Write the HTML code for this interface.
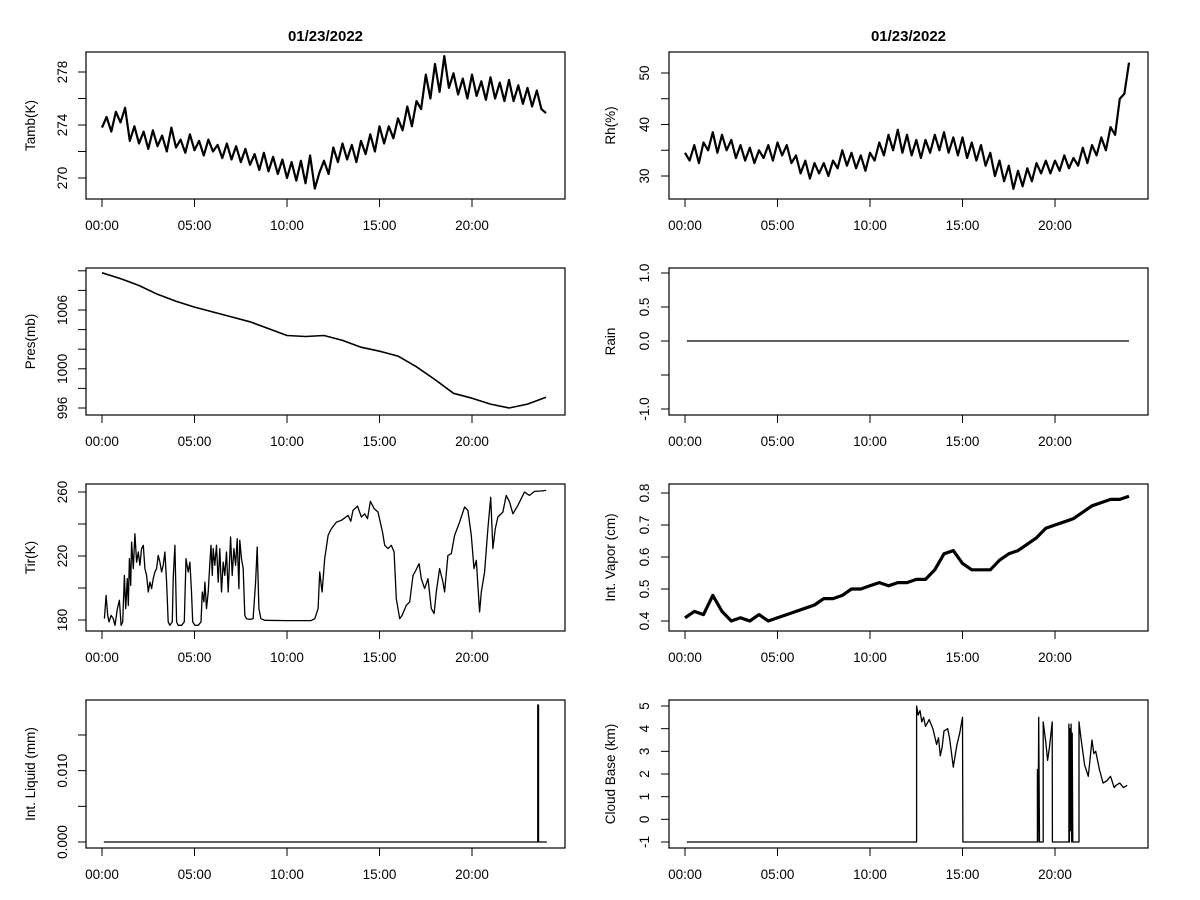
<!DOCTYPE html>
<html><head><meta charset="utf-8"><title>Met panels 01/23/2022</title>
<style>
html,body{margin:0;padding:0;background:#fff;}
svg{display:block;font-family:"Liberation Sans",Arial,sans-serif;}
</style></head>
<body>
<svg id="chart" width="1200" height="900" viewBox="0 0 1200 900" xmlns="http://www.w3.org/2000/svg"></svg>
<script>
// ---------- data ----------
const xTickHours = [0, 5, 10, 15, 20];
const xTickLabels = ["00:00", "05:00", "10:00", "15:00", "20:00"];
const dateTitle = "01/23/2022";

// Tamb (K), every 0.25 h
const tambStep = 0.25;
const tambValues = [273.8,274.6,273.5,275.0,274.2,
275.3,272.8,273.9,272.6, 273.5,272.2,273.6,272.4, 273.2,272.0,273.8,272.3,
272.9,271.9,273.3,272.1, 272.8,271.7,272.9,272.0, 272.5,271.5,272.6,271.4,
272.4,271.2,272.2,271.0, 271.8,270.6,271.9,270.5, 271.6,270.3,271.4,270.0,
271.2,269.8,271.3,269.6, 271.7,269.2,270.4,271.3, 270.3,272.3,271.2,272.6,
271.4,272.5,271.2,272.8, 271.8,273.3,272.0,273.9, 272.6,273.9,273.0,274.5,
273.6,275.4,273.9,275.8, 275.2,277.8,276.0,278.6, 276.5,279.2,276.8,277.9,
276.3,277.5,276.0,277.8, 276.2,277.3,275.9,277.6, 276.0,277.2,275.8,277.4,
275.8,277.0,275.6,276.8, 275.4,276.6,275.2,274.9];
const tambTicks = [270, 272, 274, 276, 278];
const tambTickLabels = ["270", "", "274", "", "278"];

// Rh (%), every 0.25 h
const rhStep = 0.25;
const rhValues = [34.5,33,36,32.5,36.5,
35,38.5,34.5,38, 35,37,33.5,36, 33,35.5,32.5,35, 33.5,36,33,36.5,
34,36,32.5,34, 30.5,33,29.5,32.5, 30.5,32.5,30,33, 31.5,35,32,34.5,
31.5,34,31,34.5, 33,36.5,34,38, 35,39,34.5,38, 34,37,33.5,37,
34.5,38,35,38.5, 34.5,37.5,34,37.5, 33.5,36.5,33,36, 32,34.5,30,33,
29,32,27.5,31, 28,31.5,29,32.5, 30.5,33,30.5,33, 31,34,31.5,33.5,
32,35.5,32.5,36, 34,37.5,35,39.5, 38,45,46,52];
const rhTicks = [30, 35, 40, 45, 50];
const rhTickLabels = ["30", "", "40", "", "50"];

// Pressure (mb), hourly
const presStep = 1;
const presValues = [1009.8,1009.2,1008.5,1007.6,1006.9,1006.3,1005.8,1005.3,1004.8,1004.1,1003.4,1003.3,1003.4,1002.9,1002.2,1001.8,1001.3,1000.2,998.9,997.5,997.0,996.4,996.0,996.4,997.1];
const presTicks = [996, 998, 1000, 1002, 1004, 1006, 1008, 1010];
const presTickLabels = ["996", "", "1000", "", "", "1006", "", ""];

// Rain
const rainTimes = [0.1, 24.0];
const rainValues = [0, 0];
const rainTicks = [-1, -0.5, 0, 0.5, 1];
const rainTickLabels = ["-1.0", "", "0.0", "0.5", "1.0"];

// Tir (K)
const tirTimes = [0.13,0.22,0.31,0.38,0.49,0.61,0.70,0.83,0.94,1.03,1.12,1.21,1.28,1.37,1.42,1.48,1.55,1.60,1.69,1.78,1.87,1.96,2.05,2.14,2.23,2.32,2.41,2.50,2.59,2.68,2.77,2.86,2.95,3.04,3.13,3.22,3.31,3.40,3.49,3.58,3.67,3.80,3.85,3.94,4.03,4.12,4.30,4.45,4.54,4.66,4.75,4.84,4.90,5.02,5.20,5.35,5.42,5.51,5.56,5.65,5.74,5.83,5.89,5.96,6.01,6.10,6.19,6.28,6.37,6.46,6.55,6.64,6.73,6.82,6.95,7.04,7.13,7.22,7.31,7.40,7.45,7.54,7.63,7.72,7.81,7.99,8.17,8.30,8.39,8.48,8.59,8.80,10.0,11.3,11.50,11.68,11.77,11.90,12.04,12.22,12.40,12.67,12.94,13.30,13.45,13.57,13.81,14.02,14.20,14.35,14.51,14.71,14.92,15.16,15.28,15.46,15.64,15.79,15.91,16.09,16.22,16.45,16.63,16.81,16.96,17.14,17.26,17.44,17.62,17.80,17.95,18.07,18.25,18.43,18.52,18.70,18.88,19.06,19.33,19.60,19.78,19.96,20.11,20.23,20.41,20.50,20.68,20.86,21.01,21.13,21.26,21.40,21.67,21.85,22.03,22.21,22.48,22.66,22.84,23.11,23.38,23.74,24.01];
const tirValues = [180.8,195.4,182.9,178.8,182.9,180.8,176.7,187.1,192.3,176.7,178.8,207.9,187.1,205.8,189.2,218.3,201.7,228.7,212.1,233.9,216.2,222.5,214.2,224.6,226.7,212.1,207.9,197.5,203.7,199.6,205.8,210.0,212.1,220.4,216.2,210.0,214.2,222.5,203.7,178.8,176.7,178.8,205.8,226.7,178.8,176.7,176.7,178.8,218.3,210.0,216.2,197.5,178.8,176.7,176.7,178.8,197.5,191.3,203.7,187.1,197.5,216.2,226.7,207.9,224.6,214.2,226.7,203.7,224.6,197.5,216.2,207.9,222.5,197.5,231.9,207.9,224.6,214.2,230.8,199.6,229.8,218.3,212.1,182.9,180.8,180.4,180.8,203.7,225.6,187.1,180.8,179.8,179.6,179.6,180.8,187.1,210.0,197.5,218.3,232.9,237.1,241.2,242.3,245.4,241.7,248.5,251.2,244.4,246.4,243.3,254.2,249.6,247.5,235.0,226.7,224.6,226.7,222.5,193.3,180.8,182.9,189.2,191.3,207.9,211.0,215.2,205.8,199.6,205.8,187.1,184.0,197.5,212.1,203.7,197.5,220.4,221.5,232.9,241.2,250.6,248.5,232.9,212.1,217.3,185.0,197.5,210.0,237.1,256.7,224.6,237.1,244.4,247.5,257.9,253.7,246.4,251.7,255.8,260.0,257.9,260.4,260.6,261.0];
const tirTicks = [180, 200, 220, 240, 260];
const tirTickLabels = ["180", "", "220", "", "260"];

// Integrated vapor (cm), every 0.5 h
const vapStep = 0.5;
const vapValues = [0.41,0.43,0.42,0.48,0.43,0.40,0.41,0.40,0.42,0.40,0.41,0.42,0.43,0.44,0.45,0.47,0.47,0.48,0.50,0.50,0.51,0.52,0.51,0.52,0.52,0.53,0.53,0.56,0.61,0.62,0.58,0.56,0.56,0.56,0.59,0.61,0.62,0.64,0.66,0.69,0.70,0.71,0.72,0.74,0.76,0.77,0.78,0.78,0.79];
const vapTicks = [0.4, 0.5, 0.6, 0.7, 0.8];
const vapTickLabels = ["0.4", "0.5", "0.6", "0.7", "0.8"];

// Integrated liquid (mm)
const liqTimes = [0.1, 23.55, 23.55, 23.6, 23.6, 24.05];
const liqValues = [0, 0, 0.0192, 0.0192, 0, 0];
const liqTicks = [0, 0.005, 0.010, 0.015];
const liqTickLabels = ["0.000", "", "0.010", ""];

// Cloud base (km)
const cbTimes = [0.1,12.52,12.52,12.6,12.7,12.8,12.9,13.0,13.2,13.4,13.6,13.7,13.8,13.9,14.0,14.2,14.3,14.5,14.6,14.7,14.85,15.0,15.02,19.05,19.05,19.08,19.12,19.16,19.36,19.36,19.5,19.6,19.7,19.85,19.86,20.75,20.75,20.78,20.81,20.84,20.87,20.9,20.93,20.96,21.3,21.3,21.4,21.6,21.8,22.0,22.1,22.2,22.4,22.6,22.8,23.0,23.2,23.3,23.5,23.7,23.9];
const cbValues = [-1,-1,5.0,4.6,4.8,4.3,4.5,4.1,4.4,4.0,3.3,3.6,2.8,3.2,3.9,4.0,3.6,2.3,2.8,3.3,3.8,4.5,-1,-1,2.2,-1,4.5,-1,-1,4.3,3.4,2.6,3.2,4.3,-1,-1,4.2,-1,4.0,-0.5,4.2,-1,3.8,-1,-1,4.3,3.6,2.4,1.9,3.5,2.9,3.0,2.2,1.6,1.7,1.9,1.4,1.5,1.6,1.4,1.5];
const cbTicks = [-1, 0, 1, 2, 3, 4, 5];
const cbTickLabels = ["-1", "0", "1", "2", "3", "4", "5"];

// ---------- drawing ----------
const NS = "http://www.w3.org/2000/svg";
const svg = document.getElementById("chart");
function mk(tag, attrs, parent) {
  const e = document.createElementNS(NS, tag);
  for (const k in attrs) e.setAttribute(k, attrs[k]);
  (parent || svg).appendChild(e);
  return e;
}
const PX_PER_HOUR = 18.5;
const cols = [{x0: 86, x1: 565, t0: 102, tickX: 62, titleX: 30},
              {x0: 669, x1: 1148, t0: 685, tickX: 644, titleX: 610}];
const rows = [{y0: 52, y1: 199}, {y0: 268, y1: 415}, {y0: 484, y1: 631}, {y0: 700, y1: 848}];

function regularTimes(step, n) { const t = []; for (let i = 0; i < n; i++) t.push(i * step); return t; }

function panel(name, col, row, ref, ticks, tickLabels, ylabel, times, values, opts) {
  const c = cols[col], r = rows[row];
  const ys = v => ref[1] + (v - ref[0]) * (ref[3] - ref[1]) / (ref[2] - ref[0]);
  const xs = h => c.t0 + h * PX_PER_HOUR;
  const g = mk("g", {});
  
  
  const box = mk("rect", {x: c.x0, y: r.y0, width: c.x1 - c.x0, height: r.y1 - r.y0, fill: "none", stroke: "#000", "stroke-width": 1.2}, g);
  
  
  const xa = mk("g", {}, g);
  
  
  xTickHours.forEach((h, i) => {
    const x = xs(h);
    mk("line", {x1: x, x2: x, y1: r.y1, y2: r.y1 + 8, stroke: "#000", "stroke-width": 1}, xa);
    const t = mk("text", {x: x, y: r.y1 + 31, "font-size": 13.5, "text-anchor": "middle", fill: "#000"}, xa);
    t.textContent = xTickLabels[i];
    
    
  });
  const ya = mk("g", {}, g);
  
  
  ticks.forEach((v, i) => {
    const y = ys(v);
    mk("line", {x1: c.x0 - 8, x2: c.x0, y1: y, y2: y, stroke: "#000", "stroke-width": 1}, ya);
    if (tickLabels[i]) {
      const t = mk("text", {x: c.tickX + 5, y: y, "font-size": 13.5, "text-anchor": "middle", fill: "#000",
        transform: `rotate(-90 ${c.tickX + 5} ${y})`}, ya);
      t.textContent = tickLabels[i];
      
      
    }
  });
  const yc = (r.y0 + r.y1) / 2;
  const yt = mk("text", {x: c.titleX + 5, y: yc, "font-size": 13.5, "text-anchor": "middle", fill: "#000",
    transform: `rotate(-90 ${c.titleX + 5} ${yc})`}, g);
  yt.textContent = ylabel;
  
  
  let d = "";
  times.forEach((h, i) => { d += (i ? "L" : "M") + xs(h).toFixed(1) + " " + ys(values[i]).toFixed(1); });
  const p = mk("path", {d: d, fill: "none", stroke: "#000", "stroke-width": (opts && opts.sw) || 1.2, "stroke-linejoin": "round"}, g);
  
  
  if (opts && opts.title) {
    const tt = mk("text", {x: (c.x0 + c.x1) / 2, y: 41, "font-size": 15, "font-weight": "bold", "text-anchor": "middle", fill: "#000"}, g);
    tt.textContent = dateTitle;
    
    
  }
}

panel("tamb", 0, 0, [270, 178, 278, 72], tambTicks, tambTickLabels, "Tamb(K)",
  regularTimes(tambStep, tambValues.length), tambValues, {title: true, sw: 2.2});
panel("rh", 1, 0, [30, 176, 50, 73], rhTicks, rhTickLabels, "Rh(%)",
  regularTimes(rhStep, rhValues.length), rhValues, {title: true, sw: 2.2});
panel("pres", 0, 1, [996, 408, 1006, 310], presTicks, presTickLabels, "Pres(mb)",
  regularTimes(presStep, presValues.length), presValues, {sw: 1.6});
panel("rain", 1, 1, [0, 341, 1, 273], rainTicks, rainTickLabels, "Rain", rainTimes, rainValues, {});
panel("tir", 0, 2, [180, 620, 260, 492], tirTicks, tirTickLabels, "Tir(K)", tirTimes, tirValues, {sw: 1.3});
panel("vapor", 1, 2, [0.4, 621, 0.8, 493], vapTicks, vapTickLabels, "Int. Vapor (cm)",
  regularTimes(vapStep, vapValues.length), vapValues, {sw: 3.2});
panel("liquid", 0, 3, [0, 842, 0.015, 735], liqTicks, liqTickLabels, "Int. Liquid (mm)", liqTimes, liqValues, {});
panel("cloudbase", 1, 3, [-1, 842, 5, 706], cbTicks, cbTickLabels, "Cloud Base (km)", cbTimes, cbValues, {sw: 1.3});
</script>
</body></html>
